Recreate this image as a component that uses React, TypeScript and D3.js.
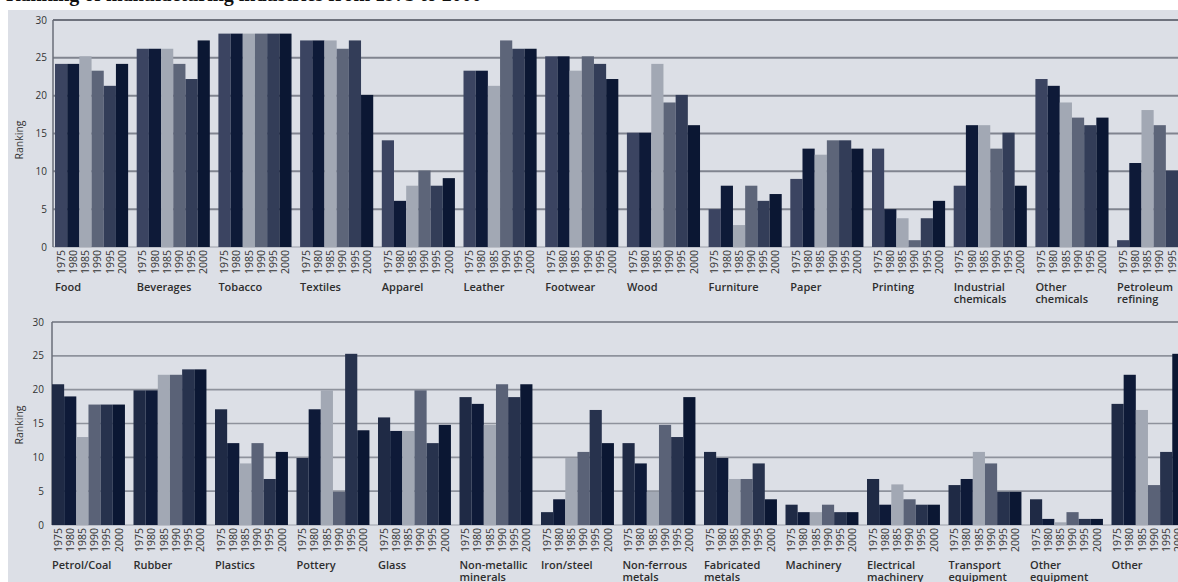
import React from "react";
import * as d3 from "d3";

const years = ["1975", "1980", "1985", "1990", "1995", "2000"];
const yTicks = [0, 5, 10, 15, 20, 25, 30];

const topCategories = [
  "Food", "Beverages", "Tobacco", "Textiles", "Apparel", "Leather", "Footwear",
  "Wood", "Furniture", "Paper", "Printing", "Industrial\nchemicals",
  "Other\nchemicals", "Petroleum\nrefining",
];
const topRanks = [
  [24.2, 24.2, 25.2, 23.3, 21.3, 24.2],
  [26.2, 26.2, 26.2, 24.2, 22.2, 27.3],
  [28.2, 28.2, 28.2, 28.2, 28.2, 28.2],
  [27.3, 27.3, 27.3, 26.2, 27.3, 20.1],
  [14.1, 6.1, 8.1, 10.1, 8.1, 9.1],
  [23.3, 23.3, 21.3, 27.3, 26.2, 26.2],
  [25.2, 25.2, 23.3, 25.2, 24.2, 22.2],
  [15.1, 15.1, 24.2, 19.1, 20.1, 16.1],
  [5.0, 8.1, 2.9, 8.1, 6.1, 7.0],
  [9.0, 13.0, 12.2, 14.1, 14.1, 13.0],
  [13.0, 5.0, 3.8, 0.9, 3.8, 6.1],
  [8.1, 16.1, 16.1, 13.0, 15.1, 8.1],
  [22.2, 21.3, 19.1, 17.1, 16.1, 17.1],
  [0.9, 11.1, 18.1, 16.1, 10.1, 10.1],
];

const bottomCategories = [
  "Petrol/Coal", "Rubber", "Plastics", "Pottery", "Glass",
  "Non-metallic\nminerals", "Iron/steel", "Non-ferrous\nmetals",
  "Fabricated\nmetals", "Machinery", "Electrical\nmachinery",
  "Transport\nequipment", "Other\nequipment", "Other",
];
const bottomRanks = [
  [20.8, 19.0, 13.0, 17.8, 17.8, 17.8],
  [19.9, 19.9, 22.2, 22.2, 23.0, 23.0],
  [17.1, 12.1, 9.1, 12.1, 6.8, 10.8],
  [9.9, 17.1, 19.9, 4.9, 25.3, 14.0],
  [15.9, 13.9, 13.9, 19.9, 12.1, 14.8],
  [18.9, 17.9, 14.8, 20.8, 18.9, 20.8],
  [1.9, 3.8, 9.9, 10.8, 17.0, 12.1],
  [12.1, 9.1, 4.9, 14.8, 13.0, 18.9],
  [10.8, 9.9, 6.8, 6.8, 9.1, 3.8],
  [3.0, 1.9, 1.9, 3.0, 1.9, 1.9],
  [6.8, 3.0, 6.0, 3.8, 3.0, 3.0],
  [5.9, 6.8, 10.8, 9.1, 4.9, 4.9],
  [3.8, 0.9, 0.4, 1.9, 0.9, 0.9],
  [17.9, 22.2, 17.0, 5.9, 10.8, 25.3],
];

const topColors = ["#3b4461", "#0e1a38", "#a2a8b4", "#5d6579", "#333d58", "#0b1733"];
const bottomColors = ["#1f2a45", "#0e1a38", "#a2a8b4", "#5a6277", "#27324d", "#0b1733"];

const FONT = "'Open Sans', 'DejaVu Sans', sans-serif";

type PanelProps = {
  categories: string[];
  ranks: number[][];
  colors: string[];
  axisX: number;
  firstGroupX: number;
  step: number;
  y0: number;
  y30: number;
  tickRight: number;
  rankLabelY: number;
  catBaseline: number;
  gridColor: string;
  topGridColor: string;
  gridWidth: number;
};

function Panel(p: PanelProps) {
  const inner = 0.105;
  const x0 = p.firstGroupX - (p.step * inner) / 2;
  const x = d3
    .scaleBand<string>()
    .domain(p.categories)
    .range([x0, x0 + p.categories.length * p.step])
    .paddingInner(inner)
    .paddingOuter(inner / 2);
  const xi = d3.scaleBand<string>().domain(years).range([0, x.bandwidth()]);
  const y = d3.scaleLinear().domain([0, 30]).range([p.y0, p.y30]);

  return (
    <g>
      {yTicks.map((t) => (
        <line
          key={"g" + t}
          x1={p.axisX}
          x2={1200}
          y1={y(t)}
          y2={y(t)}
          stroke={t === 30 ? p.topGridColor : t === 0 ? "#9a9ea8" : p.gridColor}
          strokeWidth={t === 0 ? 1 : p.gridWidth}
        />
      ))}
      <line x1={p.axisX} x2={p.axisX} y1={y(30)} y2={y(0)} stroke="#6a6e78" strokeWidth={1.5} />
      {yTicks.map((t) => (
        <text
          key={"t" + t}
          x={p.tickRight}
          y={y(t)}
          dy="0.35em"
          textAnchor="end"
          fontSize={10}
          fontFamily={FONT}
          fill="#333"
        >
          {t}
        </text>
      ))}
      <text
        transform={`translate(19,${p.rankLabelY}) rotate(-90)`}
        textAnchor="middle"
        dy="0.35em"
        fontSize={10.5}
        fontFamily={FONT}
        fill="#333"
      >
        Ranking
      </text>
      {p.categories.map((c, ci) => (
        <g key={c}>
          {years.map((yr, yi) => (
            <rect
              key={yr}
              x={(x(c) as number) + (xi(yr) as number)}
              y={y(p.ranks[ci][yi])}
              width={xi.bandwidth()}
              height={y(0) - y(p.ranks[ci][yi])}
              fill={p.colors[yi]}
            />
          ))}
          {years.map((yr) => (
            <text
              key={"l" + yr}
              transform={`translate(${(x(c) as number) + (xi(yr) as number) + xi.bandwidth() / 2},${p.y0 + 3}) rotate(-90)`}
              textAnchor="end"
              dy="0.35em"
              fontSize={10.5}
              fontFamily={FONT}
              fill="#333"
            >
              {yr}
            </text>
          ))}
          {c.split("\n").map((line, li) => (
            <text
              key={"c" + li}
              x={x(c) as number}
              y={p.catBaseline + li * 12}
              fontSize={11}
              fontWeight={600}
              fontFamily={FONT}
              fill="#2e2e2e"
            >
              {line}
            </text>
          ))}
        </g>
      ))}
    </g>
  );
}

export default function App() {
  return (
    <svg
      width={1178}
      height={582}
      style={{ position: "absolute", left: 0, top: 0, display: "block" }}
    >
      <rect x={0} y={0} width={1178} height={582} fill="#ffffff" />
      <rect x={8} y={10} width={1170} height={572} fill="#dcdfe6" />
      <text
        x={6}
        y={1}
        fontSize={20}
        fontWeight={700}
        fontFamily="'Liberation Serif', 'DejaVu Serif', serif"
        fill="#111"
      >
        Ranking of manufacturing industries from 1975 to 2000
      </text>
      <Panel
        categories={topCategories}
        ranks={topRanks}
        colors={topColors}
        axisX={53}
        firstGroupX={55}
        step={81.7}
        y0={247}
        y30={20}
        tickRight={47}
        rankLabelY={140}
        catBaseline={291}
        gridColor="#80848f"
        topGridColor="#6e727d"
        gridWidth={2}
      />
      <Panel
        categories={bottomCategories}
        ranks={bottomRanks}
        colors={bottomColors}
        axisX={52}
        firstGroupX={52}
        step={81.5}
        y0={525}
        y30={322}
        tickRight={44}
        rankLabelY={425}
        catBaseline={569}
        gridColor="#8e929c"
        topGridColor="#6e727d"
        gridWidth={1.6}
      />
    </svg>
  );
}
